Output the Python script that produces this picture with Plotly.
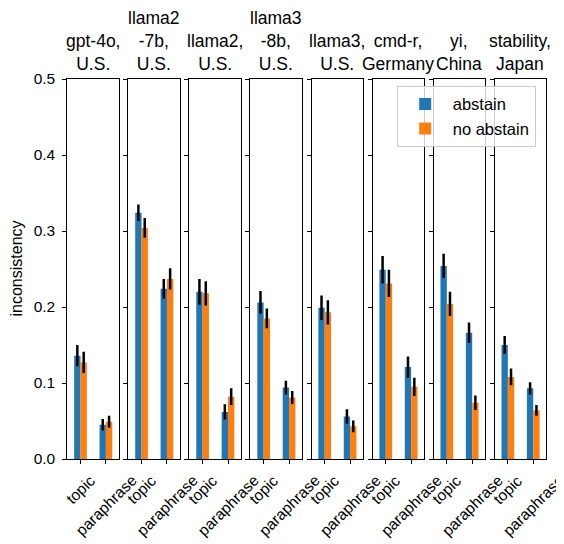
import plotly.graph_objects as go

# ---- data ----
categories = ["topic", "paraphrase"]
titles = ["gpt-4o,<br>U.S.", "llama2<br>-7b,<br>U.S.", "llama2,<br>U.S.", "llama3<br>-8b,<br>U.S.",
          "llama3,<br>U.S.", "cmd-r,<br>Germany", "yi,<br>China", "stability,<br>Japan"]
series_names = ["abstain", "no abstain"]

abstain_topic = [0.136, 0.324, 0.220, 0.206, 0.199, 0.249, 0.254, 0.150]
noabstain_topic = [0.127, 0.304, 0.218, 0.185, 0.193, 0.231, 0.204, 0.108]
abstain_para = [0.045, 0.224, 0.062, 0.094, 0.056, 0.121, 0.166, 0.093]
noabstain_para = [0.049, 0.237, 0.082, 0.081, 0.043, 0.095, 0.074, 0.064]

abstain_topic_err = [0.014, 0.011, 0.017, 0.015, 0.016, 0.018, 0.016, 0.012]
noabstain_topic_err = [0.014, 0.013, 0.016, 0.013, 0.016, 0.018, 0.016, 0.011]
abstain_para_err = [0.0075, 0.013, 0.010, 0.009, 0.0095, 0.014, 0.0135, 0.008]
noabstain_para_err = [0.008, 0.014, 0.011, 0.0085, 0.0077, 0.012, 0.0095, 0.0072]

y_ticks = [0.0, 0.1, 0.2, 0.3, 0.4, 0.5]

colors = ["#1f77b4", "#ff7f0e"]
FONT = "Liberation Sans, Arial, sans-serif"
FS_TITLE = 17.5
FS_TICK = 15.5

# page body has an 8px margin; the figure is sized to fill the rest of the window
OFF = 8
W, H = 556, 536
L0, STEP, PW = 67.3 - OFF, 61.05, 51.3

fig = go.Figure()
layout = dict()
annotations = []
for i in range(len(titles)):
    xa = "x" if i == 0 else f"x{i+1}"
    ya = "y" if i == 0 else f"y{i+1}"
    vals = [[abstain_topic[i], abstain_para[i]], [noabstain_topic[i], noabstain_para[i]]]
    errs = [[abstain_topic_err[i], abstain_para_err[i]], [noabstain_topic_err[i], noabstain_para_err[i]]]
    for s in range(2):
        fig.add_trace(go.Bar(
            x=categories, y=vals[s], name=series_names[s],
            marker=dict(color=colors[s], line=dict(width=0)),
            error_y=dict(type="data", array=errs[s], color="black", thickness=2.5, width=0),
            xaxis=xa, yaxis=ya, showlegend=(i == 0),
        ))
    left = L0 + i * STEP
    dom = [left / W, (left + PW) / W]
    xkey = "xaxis" if i == 0 else f"xaxis{i+1}"
    ykey = "yaxis" if i == 0 else f"yaxis{i+1}"
    layout[xkey] = dict(
        domain=dom, anchor=ya, type="category", range=[-0.52, 1.5],
        showline=True, mirror=True, linecolor="black", linewidth=1,
        ticks="outside", ticklen=4, tickwidth=1, tickcolor="black",
        showticklabels=False,
        showgrid=False, zeroline=False, automargin=False,
    )
    layout[ykey] = dict(
        domain=[0, 1], anchor=xa, range=[0, 0.5],
        tickvals=y_ticks, ticktext=[f"{v:.1f}" for v in y_ticks],
        showticklabels=(i == 0), ticklabelstandoff=4,
        showline=True, mirror=True, linecolor="black", linewidth=1,
        ticks="outside", ticklen=4, tickwidth=1, tickcolor="black",
        tickfont=dict(family=FONT, size=FS_TICK, color="black"),
        showgrid=False, zeroline=False, automargin=False,
    )
    # rotated category labels, centred under their ticks (bounding-box centre)
    for c in categories:
        annotations.append(dict(
            text=c, x=c, y=0, xref=xa, yref="paper",
            xanchor="center", yanchor="top", yshift=-10, textangle=-45,
            showarrow=False, font=dict(family=FONT, size=FS_TICK, color="black"),
        ))

for i, t in enumerate(titles):
    cx = (L0 + i * STEP + PW / 2) / W
    annotations.append(dict(
        text=t, x=cx, y=1.0, xref="paper", yref="paper",
        xanchor="center", yanchor="bottom", yshift=3, showarrow=False,
        font=dict(family=FONT, size=FS_TITLE, color="black"), align="center",
    ))
annotations.append(dict(
    text="inconsistency", x=(15.5 - OFF) / W, y=0.5, xref="paper", yref="paper",
    xanchor="center", yanchor="middle", textangle=-90, showarrow=False,
    font=dict(family=FONT, size=16, color="black"), borderpad=0,
))

PT, PB = 79.3, 459.3
fig.update_layout(
    width=W, height=H,
    margin=dict(l=0, r=0, t=PT - OFF, b=H + OFF - PB, autoexpand=False),
    plot_bgcolor="white", paper_bgcolor="white",
    barmode="group", bargap=0.5, bargroupgap=0,
    font=dict(family=FONT, size=FS_TICK, color="black"),
    legend=dict(
        x=(396.7 - OFF) / W, y=(PB - 86) / (PB - PT), xanchor="left", yanchor="top",
        bgcolor="rgba(255,255,255,0.8)", bordercolor="#cccccc", borderwidth=1,
        font=dict(family=FONT, size=16.5, color="black"), itemwidth=45,
        tracegroupgap=0,
    ),
    annotations=annotations,
    **layout,
)

fig.write_html("out.html")
